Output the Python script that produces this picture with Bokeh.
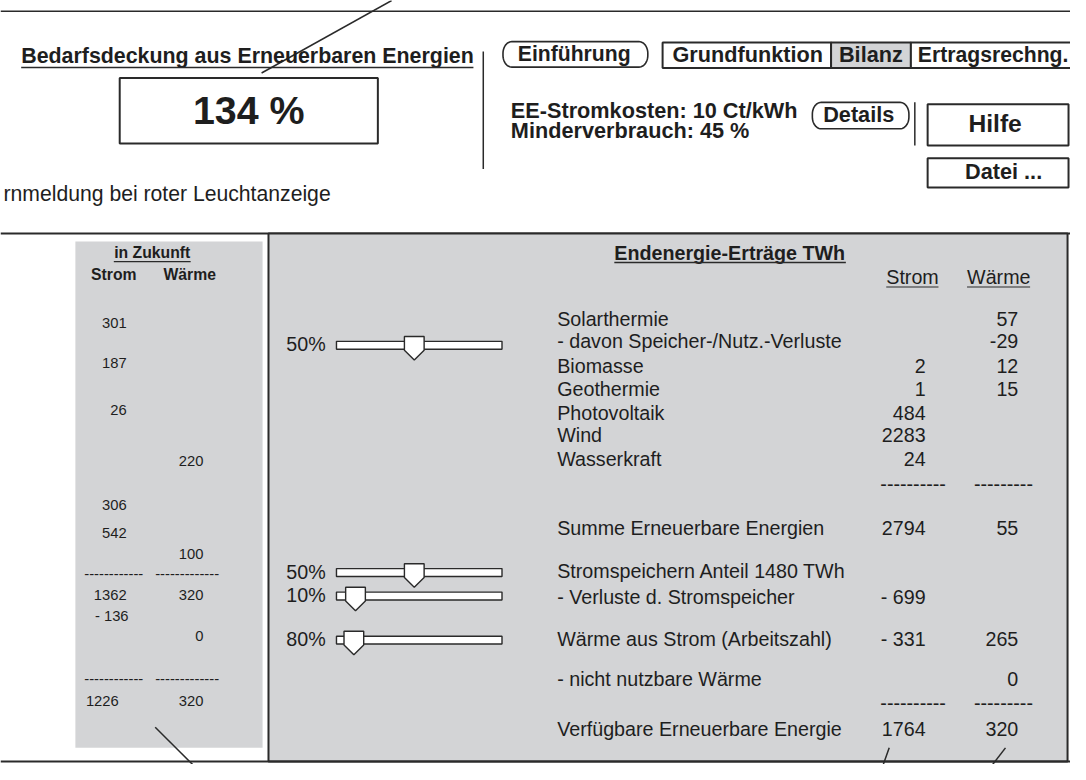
import numpy as np
from bokeh.plotting import figure
from bokeh.models import Range1d
from bokeh.core.properties import value
from bokeh.embed import file_html
from bokeh.resources import INLINE

# ---------------- data ----------------
title_text = "Bedarfsdeckung aus Erneuerbaren Energien"
coverage_text = "134 %"
intro_button = "Einführung"
tabs = ["Grundfunktion", "Bilanz", "Ertragsrechng."]
active_tab = "Bilanz"
cost_line = "EE-Stromkosten: 10 Ct/kWh"
reduction_line = "Minderverbrauch: 45 %"
details_button = "Details"
help_button = "Hilfe"
file_button = "Datei ..."
warning_text = "rnmeldung bei roter Leuchtanzeige"

future_title = "in Zukunft"
future_cols = ["Strom", "Wärme"]
future_strom = ["301", "187", "26", "", "306", "542", "", "1362", "- 136", "", "1226"]
future_waerme = ["", "", "", "220", "", "", "100", "320", "", "0", "320"]

yield_title = "Endenergie-Erträge TWh"
yield_cols = ["Strom", "Wärme"]
yield_labels = [
    "Solarthermie",
    "- davon Speicher-/Nutz.-Verluste",
    "Biomasse",
    "Geothermie",
    "Photovoltaik",
    "Wind",
    "Wasserkraft",
    "Summe Erneuerbare Energien",
    "Stromspeichern Anteil 1480 TWh",
    "- Verluste d. Stromspeicher",
    "Wärme aus Strom (Arbeitszahl)",
    "- nicht nutzbare Wärme",
    "Verfügbare Erneuerbare Energie",
]
yield_strom = ["", "", "2", "1", "484", "2283", "24", "2794", "", "- 699", "- 331", "", "1764"]
yield_waerme = ["57", "-29", "12", "15", "", "", "", "55", "", "", "265", "0", "320"]

slider_labels = ["50%", "50%", "10%", "80%"]
slider_thumb = [0.47, 0.47, 0.115, 0.105]   # thumb position along the track

# ---------------- layout / style ----------------
FONT = "Liberation Sans"
INK = "#1e1e1e"
LINE = "#2a2a2a"
GRAY = "#d3d4d6"
W, H = 1070, 764
REF_W, REF_H = 1086, 780
S = W / REF_W   # px per reference px

p = figure(width=W, height=H, x_range=Range1d(0, REF_W), y_range=Range1d(REF_H, 0),
           output_backend="svg", toolbar_location=None, min_border=0,
           x_axis_location=None, y_axis_location=None)
p.grid.visible = False
p.outline_line_color = None
p.background_fill_color = "white"
p.border_fill_color = "white"


def txt(x, yc, s, size, bold=False, align="left", color=INK):
    """yc: visual centre of the text line (reference px)."""
    if s == "":
        return
    p.text(x=[x], y=[yc - 1], text=[s], text_font=value(FONT),
           text_font_size=value(f"{size * S:.2f}px"),
           text_font_style="bold" if bold else "normal",
           text_align=align, text_baseline="alphabetic", text_color=color)


def seg(x0, y0, x1, y1, w=1.5, color=LINE):
    p.segment(x0=[x0], y0=[y0], x1=[x1], y1=[y1], line_color=color, line_width=w)


def box(l, r, t, b, fill="white", w=2, color=LINE):
    p.quad(left=[l], right=[r], top=[t], bottom=[b], fill_color=fill,
           line_color=color, line_width=w)


def pill(x0, x1, y0, y1, rx=9, ry=12):
    xs, ys = [], []
    corners = [((x1 - rx, y0 + ry), -90, 0), ((x1 - rx, y1 - ry), 0, 90),
               ((x0 + rx, y1 - ry), 90, 180), ((x0 + rx, y0 + ry), 180, 270)]
    for (cx, cy), a0, a1 in corners:
        a = np.radians(np.linspace(a0, a1, 14))
        xs += list(cx + rx * np.cos(a))
        ys += list(cy + ry * np.sin(a))
    p.patch(xs, ys, fill_color="white", line_color=LINE, line_width=1.6)


# ---------------- top area ----------------
seg(0, 11, REF_W, 11, 1.5)
seg(265, 74, 397, 0, 1.5)
txt(21, 57.5, title_text, 21.7, bold=True)
seg(21, 68.5, 480, 68.5, 1.5)
box(121, 383, 79, 146)
txt(252, 113, coverage_text, 40, bold=True, align="center")
seg(490, 52, 490, 172, 1.5)

pill(510, 657, 42, 68)
txt(525, 55, intro_button, 21.5, bold=True)

tab_edges = [672, 843, 924, 1100]
tab_text_x = [682, 851, 931]
for i, t in enumerate(tabs):
    box(tab_edges[i], tab_edges[i + 1], 43, 69,
        fill=GRAY if t == active_tab else "white", w=2)
    txt(tab_text_x[i], 56, t, 21.5 if i == 2 else 22, bold=True)

txt(518, 113, cost_line, 22, bold=True)
txt(518, 134, reduction_line, 22, bold=True)
pill(824, 922, 104, 131)
txt(835, 117.5, details_button, 22, bold=True)
seg(928, 104, 928, 148, 1.5)

box(941, 1084, 106, 148)
txt(1009.5, 126.5, help_button, 25, bold=True, align="center")
box(941, 1084, 161, 191)
txt(979, 176, file_button, 22, bold=True)

txt(3, 198, warning_text, 21.5)

# ---------------- bottom frame ----------------
seg(0, 238, REF_W, 238, 2)
box(272, 1083, 238, 777, fill=GRAY, w=2)
seg(0, 777, REF_W, 777, 2)

# left "in Zukunft" panel
p.quad(left=[76], right=[266], top=[246], bottom=[763], fill_color=GRAY, line_color=None)
txt(154, 258.5, future_title, 16, bold=True, align="center")
seg(115, 266.5, 193, 266.5, 1.3)
txt(115, 280.5, future_cols[0], 16, bold=True, align="center")
txt(192, 280.5, future_cols[1], 16, bold=True, align="center")
future_y = [330, 371, 419, 471, 516, 545, 566, 608, 629, 650, 716]
future_strom_right = [128, 128, 128, 128, 128, 128, 128, 128, 130, 128, 120]
for yv, s, rx in zip(future_y, future_strom, future_strom_right):
    txt(rx, yv, s, 15, align="right")
for yv, s in zip(future_y, future_waerme):
    txt(206, yv, s, 15, align="right")
for yv in [587, 695]:
    txt(85, yv - 1, "-" * 12, 15)
    txt(157, yv - 1, "-" * 13, 15)
seg(157, 742, 195, 780, 1.5)

# right panel: yields table
txt(623, 258.5, yield_title, 20, bold=True)
seg(623, 267.5, 858, 267.5, 1.4)
txt(899, 283.5, yield_cols[0], 20)
seg(899, 292.5, 952, 292.5, 1.2)
txt(981, 283.5, yield_cols[1], 20)
seg(981, 292.5, 1045, 292.5, 1.2)

label_y = [326, 349, 374, 398, 422, 445, 469, 540, 583, 610, 653, 694, 745]
for yv, lab, s, w in zip(label_y, yield_labels, yield_strom, yield_waerme):
    txt(565, yv, lab, 20)
    txt(939, yv, s, 20, align="right")
    txt(1033, yv, w, 20, align="right")
for yv in [496, 719]:
    txt(893, yv - 1, "-" * 10, 20)
    txt(988, yv - 1, "-" * 9, 20)

seg(902, 763, 896, 780, 1.5)
seg(1020, 763, 1007, 780, 1.5)

# sliders
slider_y = [352, 584, 608, 653]
track_x0, track_x1 = 341, 509
for yc, lab, f in zip(slider_y, slider_labels, slider_thumb):
    txt(330, yc, lab, 20, align="right")
    p.quad(left=[track_x0], right=[track_x1], top=[yc - 4], bottom=[yc + 4],
           fill_color="white", line_color=LINE, line_width=1.4)
    cx = track_x0 + f * (track_x1 - track_x0)
    p.patch([cx - 10, cx + 10, cx + 10, cx, cx - 10],
            [yc - 9, yc - 9, yc + 5, yc + 15, yc + 5],
            fill_color="white", line_color=LINE, line_width=1.4)

open("out.html", "w").write(file_html(p, INLINE))
